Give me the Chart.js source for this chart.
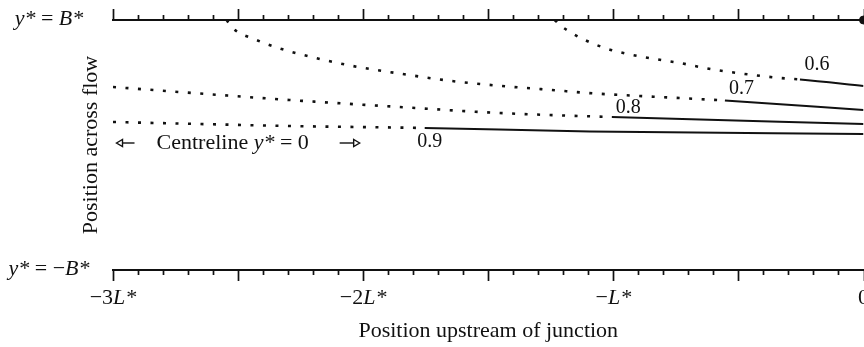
<!DOCTYPE html>
<html><head><meta charset="utf-8">
<script src="https://cdn.jsdelivr.net/npm/chart.js@4/dist/chart.umd.min.js"></script>
<style>html,body{margin:0;padding:0;background:#fff;overflow:hidden;width:864px;height:347px}canvas{display:block}</style>
</head><body><canvas id="c" width="900" height="347"></canvas>
<script>
// ---- data (x in units of L*, y in units of B*) ----
const contourLevels = [0.6, 0.7, 0.8, 0.9];
const c06x = [-1.234, -1.214, -1.166, -1.122, -1.034, -0.942, -0.834, -0.734, -0.634, -0.534, -0.442, -0.334, -0.254, 0];
const c06y = [1.0, 0.96, 0.896, 0.848, 0.776, 0.728, 0.688, 0.656, 0.616, 0.584, 0.56, 0.536, 0.524, 0.472];
const c07x = [-2.546, -2.522, -2.426, -2.326, -2.19, -2.042, -1.842, -1.646, -1.446, -1.246, -1.102, -0.854, -0.554, 0];
const c07y = [1.0, 0.936, 0.84, 0.768, 0.696, 0.632, 0.568, 0.512, 0.472, 0.44, 0.416, 0.388, 0.356, 0.28];
const c08x = [-3.0, -2.654, -2.294, -1.854, -1.454, -1.006, 0];
const c08y = [0.464, 0.412, 0.36, 0.304, 0.256, 0.224, 0.168];
const c09x = [-3.0, -2.654, -2.294, -1.754, -1.094, 0];
const c09y = [0.184, 0.168, 0.152, 0.136, 0.108, 0.088];
const dottedUntil = [-0.254, -0.554, -1.006, -1.754];
const labelX = [-0.186, -0.488, -0.94, -1.734];
const labelY = [0.64, 0.452, 0.30, 0.028];
const xTickValues = [-3, -2, -1, 0];
const xTickLabels = ['\u22123L*', '\u22122L*', '\u2212L*', '0'];
const yTickValues = [1, -1];
const yTickLabels = ['y* = B*', 'y* = \u2212B*'];
const junctionX = [0];
const junctionY = [1];
const centrelineText = 'Centreline y* = 0';
const centrelineAt = {x: -2.826, y: 0.016};
const arrowLeft = {tip: -2.986, tail: -2.914};
const arrowRight = {tail: -2.094, tip: -2.014};

const xs = [c06x, c07x, c08x, c09x];
const ys = [c06y, c07y, c08y, c09y];
const INK = '#111';
const SERIF = '"Liberation Serif", "Times New Roman", serif';

function runs(text) {
  return text.split(/([A-Za-z]\*)/).filter(s => s.length).map(s => ({s, it: /^[A-Za-z]\*$/.test(s)}));
}
function drawRich(ctx, text, x, y, align, size) {
  const parts = runs(text);
  let w = 0;
  parts.forEach(p => { ctx.font = (p.it ? 'italic ' : '') + size + 'px ' + SERIF; p.w = ctx.measureText(p.s).width; w += p.w; });
  let cx = align === 'center' ? x - w / 2 : (align === 'right' ? x - w : x);
  ctx.textAlign = 'left';
  parts.forEach(p => { ctx.font = (p.it ? 'italic ' : '') + size + 'px ' + SERIF; ctx.fillText(p.s, cx, y); cx += p.w; });
}
function arrow(ctx, xTail, xTip, y) {
  const dir = Math.sign(xTip - xTail);
  const hl = 6, hw = 3.5;
  ctx.beginPath();
  ctx.moveTo(xTail, y); ctx.lineTo(xTip - dir * hl, y);
  ctx.stroke();
  ctx.beginPath();
  ctx.moveTo(xTip, y); ctx.lineTo(xTip - dir * hl, y - hw); ctx.lineTo(xTip - dir * hl, y + hw); ctx.closePath();
  ctx.stroke();
}

const decor = {
  id: 'decor',
  afterDraw(chart) {
    const ctx = chart.ctx, xs_ = chart.scales.x, ys_ = chart.scales.y, area = chart.chartArea;
    ctx.save();
    ctx.strokeStyle = INK; ctx.fillStyle = INK; ctx.lineWidth = 1.7;
    // tick marks (bottom: down, top: up)
    xs_.ticks.forEach(t => {
      const px = Math.round(xs_.getPixelForValue(t.value)) + 0.5;
      const major = Math.abs(t.value * 2 - Math.round(t.value * 2)) < 1e-6;
      const len = major ? 11 : 5;
      ctx.beginPath();
      ctx.moveTo(px, area.bottom); ctx.lineTo(px, area.bottom + len);
      ctx.moveTo(px, area.top); ctx.lineTo(px, area.top - len);
      ctx.stroke();
    });
    // x tick labels
    ctx.textBaseline = 'alphabetic';
    xTickValues.forEach((v, i) => drawRich(ctx, xTickLabels[i], xs_.getPixelForValue(v), area.bottom + 34, 'center', 22));
    // y tick labels
    yTickValues.forEach((v, i) => drawRich(ctx, yTickLabels[i], 49, ys_.getPixelForValue(v) + 5, 'center', 22));
    // contour labels
    ctx.textBaseline = 'middle';
    contourLevels.forEach((lev, i) => drawRich(ctx, lev.toFixed(1), xs_.getPixelForValue(labelX[i]), ys_.getPixelForValue(labelY[i]), 'center', 20));
    // centreline annotation
    const cy = ys_.getPixelForValue(centrelineAt.y);
    drawRich(ctx, centrelineText, xs_.getPixelForValue(centrelineAt.x), cy, 'left', 22);
    ctx.lineWidth = 1.4;
    arrow(ctx, xs_.getPixelForValue(arrowLeft.tail), xs_.getPixelForValue(arrowLeft.tip), cy);
    arrow(ctx, xs_.getPixelForValue(arrowRight.tail), xs_.getPixelForValue(arrowRight.tip), cy);
    ctx.restore();
  }
};

const datasets = contourLevels.map((lev, i) => ({
  label: 'Contour ' + lev,
  data: xs[i].map((x, j) => ({x, y: ys[i][j]})),
  borderColor: INK, borderWidth: 2, pointRadius: 0, fill: false,
  cubicInterpolationMode: 'monotone',
  segment: {
    borderDash: ctx => ctx.p1.parsed.x <= dottedUntil[i] + 1e-9 ? [3, 9.5] : undefined,
    borderWidth: ctx => ctx.p1.parsed.x <= dottedUntil[i] + 1e-9 ? 2.6 : undefined
  }
}));
datasets.push({
  label: 'Junction',
  data: junctionX.map((x, j) => ({x, y: junctionY[j]})),
  showLine: false, pointRadius: 4, pointBackgroundColor: INK, pointBorderColor: INK, clip: false
});

new Chart(document.getElementById('c'), {
  type: 'line',
  data: {datasets},
  options: {
    responsive: false, animation: false, devicePixelRatio: 1,
    layout: {padding: {left: 0, right: 36.5, top: 0, bottom: 0}},
    plugins: {legend: {display: false}, tooltip: {enabled: false}},
    scales: {
      x: {
        type: 'linear', position: 'bottom', min: -3, max: 0,
        ticks: {display: false, stepSize: 0.1, autoSkip: false},
        grid: {display: false},
        border: {display: true, color: INK, width: 2},
        title: {display: true, text: 'Position upstream of junction', color: INK,
                font: {family: SERIF, size: 22}, padding: {top: 0, bottom: 3}},
        afterFit: s => { s.height = 77; }
      },
      xTop: {
        type: 'linear', position: 'top', min: -3, max: 0,
        ticks: {display: false, stepSize: 0.1},
        grid: {display: false},
        border: {display: true, color: INK, width: 2},
        afterFit: s => { s.height = 20; }
      },
      y: {
        type: 'linear', min: -1, max: 1,
        ticks: {display: false},
        grid: {display: false},
        border: {display: false},
        title: {display: true, text: 'Position across flow', color: INK,
                font: {family: SERIF, size: 22}, padding: {top: 78, bottom: 0}},
        afterFit: s => { s.width = 113; }
      }
    }
  },
  plugins: [decor]
});
</script>
</body></html>
